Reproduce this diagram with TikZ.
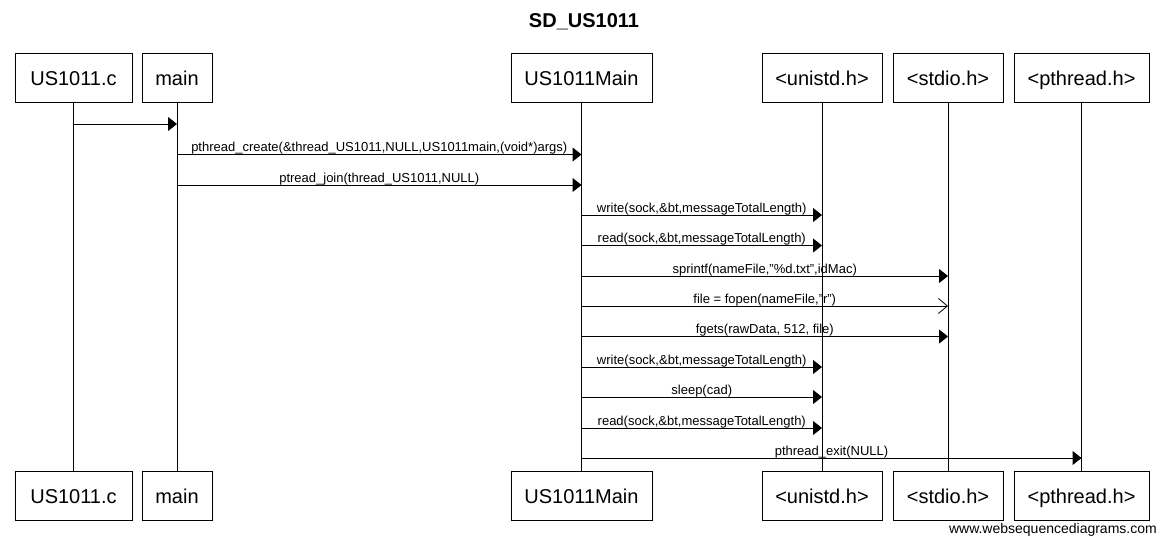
\documentclass[tikz,border=0pt]{standalone}
\usepackage{fontspec}
\setmainfont{Liberation Sans}
\usetikzlibrary{arrows.meta}
\begin{document}
\begin{tikzpicture}[x=1pt,y=-1pt,
 part/.style={draw, line width=1pt, minimum height=49pt, inner sep=0pt, text height=14.3pt, text depth=0pt, font=\fontsize{20}{24}\selectfont},
 life/.style={line width=1pt},
 msg/.style={line width=1pt, -{Triangle[length=9pt,width=14pt]}},
 omsg/.style={line width=1pt, -{Straight Barb[length=9pt,width=15pt,line width=0.8pt]}},
 lbl/.style={above, inner sep=0pt, yshift=-0.5pt, font=\fontsize{13}{15}\selectfont}]
\useasboundingbox (0,0) rectangle (1166,544);
\node[font=\fontsize{20}{24}\selectfont\bfseries] (title) at (584,22) {SD\_US1011};
% top participants
\node[part, minimum width=117pt] (usc) at (73.5,78) {US1011.c};
\node[part, minimum width=70pt] (main) at (177,78) {main};
\node[part, minimum width=141pt] (usm) at (581.5,78) {US1011Main};
\node[part, minimum width=120pt] (unistd) at (822,78) {<unistd.h>};
\node[part, minimum width=110pt] (stdio) at (948,78) {<stdio.h>};
\node[part, minimum width=135pt] (pthr) at (1081.5,78) {<pthread.h>};
% bottom participants
\node[part, minimum width=117pt] (uscB) at (73.5,496) {US1011.c};
\node[part, minimum width=70pt] (mainB) at (177,496) {main};
\node[part, minimum width=141pt] (usmB) at (581.5,496) {US1011Main};
\node[part, minimum width=120pt] (unistdB) at (822,496) {<unistd.h>};
\node[part, minimum width=110pt] (stdioB) at (948,496) {<stdio.h>};
\node[part, minimum width=135pt] (pthrB) at (1081.5,496) {<pthread.h>};
% lifelines
\draw[life] (usc.south) -- (uscB.north);
\draw[life] (main.south) -- (mainB.north);
\draw[life] (usm.south) -- (usmB.north);
\draw[life] (unistd.south) -- (unistdB.north);
\draw[life] (stdio.south) -- (stdioB.north);
\draw[life] (pthr.south) -- (pthrB.north);
% messages
\draw[msg] (usc |- 0,124) -- (main |- 0,124);
\draw[msg] (main |- 0,154.5) -- node[lbl]{pthread\_create(\&thread\_US1011,NULL,US1011main,(void*)args)} (usm |- 0,154.5);
\draw[msg] (main |- 0,185) -- node[lbl]{ptread\_join(thread\_US1011,NULL)} (usm |- 0,185);
\draw[msg] (usm |- 0,215) -- node[lbl]{write(sock,\&bt,messageTotalLength)} (unistd |- 0,215);
\draw[msg] (usm |- 0,245.5) -- node[lbl]{read(sock,\&bt,messageTotalLength)} (unistd |- 0,245.5);
\draw[msg] (usm |- 0,276) -- node[lbl]{sprintf(nameFile,"\%d.txt",idMac)} (stdio |- 0,276);
\draw[omsg] (usm |- 0,306) -- node[lbl]{file = fopen(nameFile,"r")} (stdio |- 0,306);
\draw[msg] (usm |- 0,336.5) -- node[lbl]{fgets(rawData, 512, file)} (stdio |- 0,336.5);
\draw[msg] (usm |- 0,367) -- node[lbl]{write(sock,\&bt,messageTotalLength)} (unistd |- 0,367);
\draw[msg] (usm |- 0,397) -- node[lbl]{sleep(cad)} (unistd |- 0,397);
\draw[msg] (usm |- 0,428) -- node[lbl]{read(sock,\&bt,messageTotalLength)} (unistd |- 0,428);
\draw[msg] (usm |- 0,458) -- node[lbl]{pthread\_exit(NULL)} (pthr |- 0,458);
\node[anchor=east, inner sep=0pt, font=\fontsize{14}{16}\selectfont] (footer) at (1157,530) {www.websequencediagrams.com};
\end{tikzpicture}
\end{document}
